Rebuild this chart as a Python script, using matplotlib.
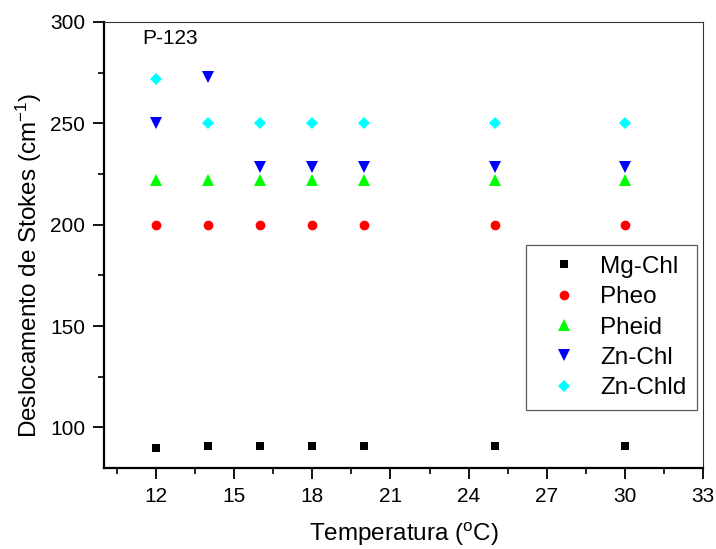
import matplotlib
matplotlib.use("Agg")
import matplotlib.pyplot as plt
from matplotlib.ticker import MultipleLocator

plt.rcParams['font.family'] = ['Liberation Sans', 'DejaVu Sans']
plt.rcParams['mathtext.fontset'] = 'custom'
plt.rcParams['mathtext.rm'] = 'Liberation Sans'
plt.rcParams['mathtext.default'] = 'regular'

temperature = [12, 14, 16, 18, 20, 25, 30]
mg_chl = [90, 91, 91, 91, 91, 91, 91]
pheo = [200, 200, 200, 200, 200, 200, 200]
pheid = [222, 222, 222, 222, 222, 222, 222]
zn_chl = [250, 273, 228.5, 228.5, 228.5, 228.5, 228.5]
zn_chld = [272, 250, 250, 250, 250, 250, 250]

series = [
    ("Mg-Chl", mg_chl, "s", "#000000", 6),
    ("Pheo", pheo, "o", "#ff0000", 7),
    ("Pheid", pheid, "^", "#00ff00", 8),
    ("Zn-Chl", zn_chl, "v", "#0000ff", 8),
    ("Zn-Chld", zn_chld, "D", "#00ffff", 6.5),
]

fig = plt.figure(figsize=(7.16, 5.49), dpi=100)
ax = fig.add_axes([0.1453, 0.1475, 0.8365, 0.8125])

for name, vals, marker, color, ms in series:
    ax.plot(temperature, vals, linestyle='none', marker=marker, color=color,
            markersize=ms, markeredgewidth=0, label=name)

ax.set_xlim(10, 33)
ax.set_ylim(80, 300)
ax.xaxis.set_minor_locator(MultipleLocator(1.5))
ax.yaxis.set_minor_locator(MultipleLocator(25))
ax.set_xticks([12, 15, 18, 21, 24, 27, 30, 33])
ax.set_yticks([100, 150, 200, 250, 300])

for side in ['left', 'bottom']:
    ax.spines[side].set_linewidth(1.6)
for side in ['top', 'right']:
    ax.spines[side].set_linewidth(0.8)
    ax.spines[side].set_color('#333333')

ax.tick_params(which='major', direction='out', length=8, width=1.3, labelsize=15, pad=5.5)
ax.tick_params(which='minor', direction='out', length=4.5, width=1.2)

ax.set_xlabel('Temperatura ($^{o}$C)', fontsize=17.5, labelpad=10.5)
ax.set_ylabel('Deslocamento de Stokes (cm$^{-1}$)', fontsize=17.5)
ax.yaxis.set_label_coords(-0.1, 0.455)

ax.text(12.54, 291.8, 'P-123', fontsize=15, ha='center', va='center')

leg = ax.legend(loc='lower right', bbox_to_anchor=(0.99, 0.13), borderaxespad=0,
                fontsize=17.5, frameon=True, fancybox=False, edgecolor='#333333',
                handletextpad=0.38, labelspacing=0.34, borderpad=0.45,
                handlelength=2.2, markerscale=1.0)
leg.get_frame().set_linewidth(0.9)

fig.savefig('out.png', dpi=100)
